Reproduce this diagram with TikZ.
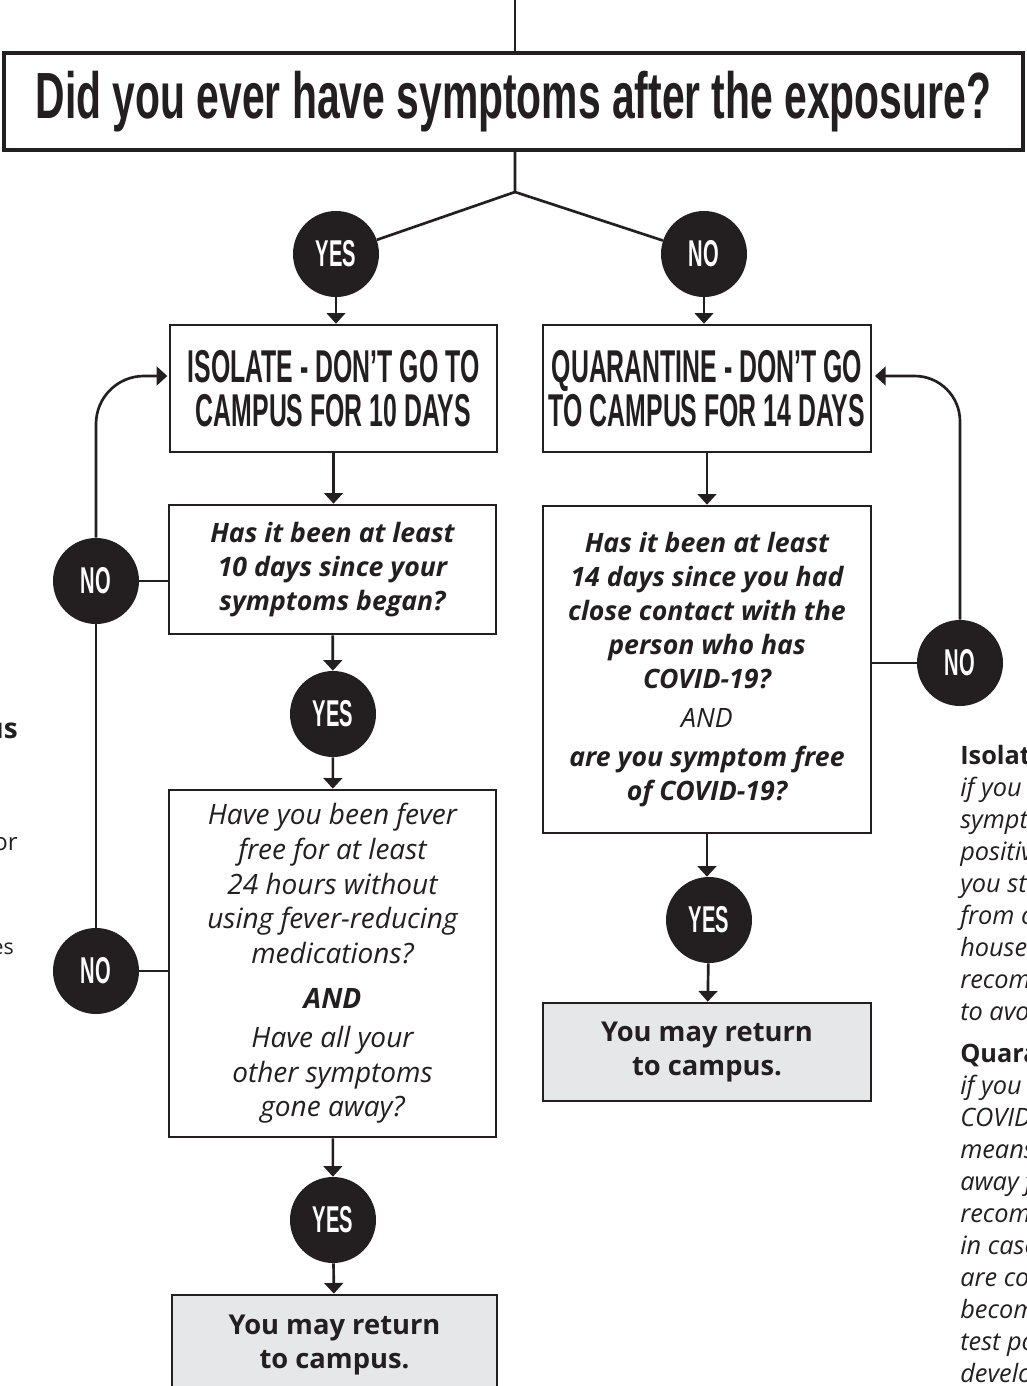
\documentclass[tikz,border=0pt]{standalone}
\usepackage{fontspec}
\setmainfont{Open Sans}
\newfontfamily\gothic[FakeStretch=0.54]{Liberation Sans}
\newfontfamily\gothictitle[FakeStretch=0.625]{Liberation Sans}
\usetikzlibrary{arrows.meta}
\definecolor{ink}{HTML}{231F20}
\definecolor{paleg}{HTML}{E6E7E8}

\begin{document}
\begin{tikzpicture}[x=0.75pt,y=-0.75pt,
  box/.style={draw=ink,line width=2pt,fill=white,align=center,inner sep=0pt,text=ink},
  graybox/.style={box,fill=paleg,font=\bfseries\fontsize{20.5}{25}\selectfont},
  dot/.style={circle,fill=ink,minimum size=64.5pt,inner sep=0pt,text=white,font=\gothic\bfseries\fontsize{28}{28}\selectfont},
  conn/.style={draw=ink,line width=2pt},
  arr/.style={conn,-{Triangle[width=14pt,length=8pt]}},
  caps/.style={font=\gothic\bfseries\fontsize{34.5}{33}\selectfont},
  ask/.style={font=\bfseries\itshape\fontsize{20}{25.5}\selectfont},
  plain/.style={font=\itshape\fontsize{21}{26}\selectfont},
  note/.style={align=left,inner sep=0pt,text=ink,anchor=north west,font=\itshape\fontsize{19}{24}\selectfont}]
\useasboundingbox (0,0) rectangle (1026,1386);
\clip (0,0) rectangle (1026,1386);

\node[box,line width=2.6pt,minimum width=764.25pt,minimum height=72.75pt,font=\gothictitle\bfseries\fontsize{49}{49}\selectfont] (title) at (513.5,101.5) {Did you ever have symptoms after the exposure?};
\coordinate (top) at (515,0);
\coordinate (split) at (515,192);

\node[dot] (yes0) at (336,254) {YES};
\node[dot] (no0) at (704,254) {NO};

\node[box,caps,minimum width=245.25pt,minimum height=95.25pt] (iso) at (333.5,388.5) {ISOLATE - DON’T GO TO\\CAMPUS FOR 10 DAYS};
\node[box,caps,minimum width=246pt,minimum height=95.25pt] (quar) at (707,388.5) {QUARANTINE - DON’T GO\\TO CAMPUS FOR 14 DAYS};

\node[box,ask,minimum width=245.25pt,minimum height=96.75pt] (q10) at (332.5,569.5) {Has it been at least\\10 days since your\\symptoms began?};
\node[dot] (yes1) at (333,714) {YES};
\node[box,plain,minimum width=245.25pt,minimum height=260.25pt] (q24) at (332.5,963.5) {Have you been fever\\free for at least\\24 hours without\\using fever-reducing\\medications?\\[8pt]{\bfseries AND}\\[3pt]Have all your\\other symptoms\\gone away?};
\node[dot] (yes2) at (333,1220) {YES};
\node[graybox,minimum width=243.75pt,minimum height=75pt] (ret1) at (334.5,1345) {You may return\\to campus.};

\node[dot] (no1) at (96,581) {NO};
\node[dot] (no2) at (96,971) {NO};

\node[box,ask,minimum width=246pt,minimum height=245.25pt] (q14) at (707,669.5) {Has it been at least\\14 days since you had\\close contact with the\\person who has\\COVID-19?\\[4pt]{\mdseries AND}\\[4pt]are you symptom free\\of COVID-19?};
\node[dot] (no3) at (960,663) {NO};
\node[dot] (yes3) at (709,920) {YES};
\node[graybox,minimum width=246pt,minimum height=73.5pt] (ret2) at (707,1052) {You may return\\to campus.};

\draw[conn] (top) -- (top |- title.north);
\draw[conn] (title.south -| split) -- (split) -- (yes0);
\draw[conn] (split) -- (no0);
\draw[arr] (yes0) -- (yes0 |- iso.north);
\draw[arr] (no0) -- (no0 |- quar.north);
\draw[arr] (iso.south) -- (iso.south |- q10.north);
\draw[arr] (q10) -- (yes1);
\draw[arr] (yes1) -- (q24);
\draw[arr] (q24) -- (yes2);
\draw[arr] (yes2) -- (ret1);
\draw[conn] (no1) -- (no1 -| q10.west);
\draw[conn] (no2) -- (no2 -| q24.west);
\draw[conn] (no2) -- (no1);
\draw[arr,rounded corners=36pt] (no1.north) |- ([xshift=-1pt]iso.west |- 0,376);
\draw[arr] (quar.south) -- (quar.south |- q14.north);
\draw[conn] (no3) -- (no3 -| q14.east);
\draw[arr,rounded corners=34pt] (no3.north) |- ([xshift=2pt]quar.east |- 0,376);
\draw[arr] (q14.south) -- (q14.south |- yes3.north);
\draw[arr] (yes3) -- (ret2);

\node[note,anchor=base east,font=\bfseries\fontsize{21}{24}\selectfont] (lfrag1) at (18,738) {us};
\node[note,anchor=base east,font=\fontsize{18}{24}\selectfont] (lfrag2) at (18,850) {or};
\node[note,anchor=base east,font=\fontsize{16}{24}\selectfont] (lfrag3) at (14,954) {es};

\node[note] (isonote) at (960,745) {{\upshape\bfseries Isolation}\\if you have\\symptoms\\positive\\you stay\\from others\\household\\recommended\\to avoid};
\node[note] (quarnote) at (960,1043) {{\upshape\bfseries Quarantine}\\if you had\\COVID-19\\means\\away from\\recommended\\in case\\are contagious\\become\\test positive\\develop};
\end{tikzpicture}
\end{document}
